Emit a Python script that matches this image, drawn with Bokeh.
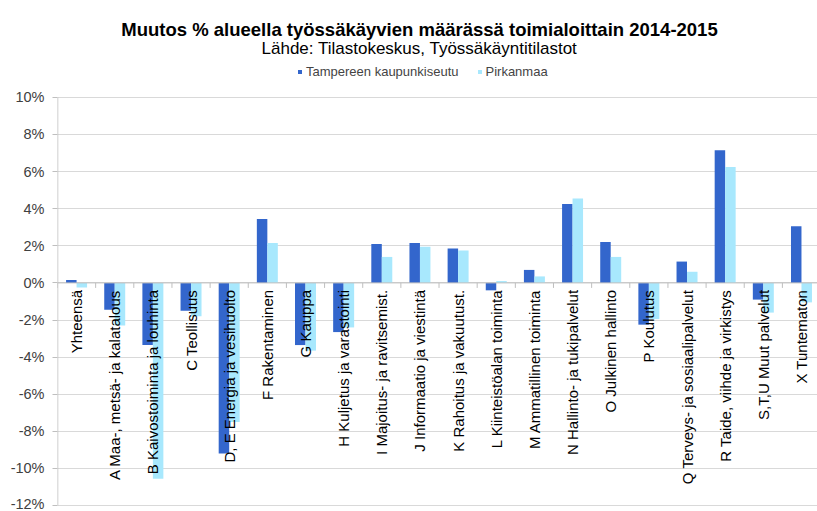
import numpy as np
from bokeh.plotting import figure
from bokeh.models import (ColumnDataSource, Range1d, FixedTicker, PrintfTickFormatter,
                          Label, Legend, LegendItem, Span)
from bokeh.transform import dodge
from bokeh.core.properties import value
from bokeh.embed import file_html
from bokeh.resources import INLINE

# ---- data -------------------------------------------------------------
categories = [
    "Yhteensä",
    "A Maa-, metsä- ja kalatalous",
    "B Kaivostoiminta ja louhinta",
    "C Teollisuus",
    "D, E Energia ja vesihuolto",
    "F Rakentaminen",
    "G Kauppa",
    "H Kuljetus ja varastointi",
    "I Majoitus- ja ravitsemist.",
    "J Informaatio ja viestintä",
    "K Rahoitus ja vakuutust.",
    "L Kiinteistöalan toiminta",
    "M Ammatillinen toiminta",
    "N Hallinto- ja tukipalvelut",
    "O Julkinen hallinto",
    "P Koulutus",
    "Q Terveys- ja sosiaalipalvelut",
    "R Taide, viihde ja virkistys",
    "S,T,U Muut palvelut",
    "X Tuntematon",
]
tampere = [0.15, -1.45, -3.35, -1.5, -9.2, 3.45, -3.35, -2.65, 2.1, 2.15,
           1.85, -0.4, 0.7, 4.25, 2.2, -2.25, 1.15, 7.15, -0.9, 3.05]
pirkanmaa = [-0.25, -2.3, -10.55, -1.8, -7.5, 2.15, -3.65, -2.4, 1.4, 1.95,
             1.75, 0.1, 0.35, 4.55, 1.4, -1.95, 0.6, 6.25, -1.6, -1.05]
series_names = ["Tampereen kaupunkiseutu", "Pirkanmaa"]
y_ticks = list(range(-12, 11, 2))
title_text = "Muutos % alueella työssäkäyvien määrässä toimialoittain 2014-2015"
subtitle_text = "Lähde: Tilastokeskus, Työssäkäyntitilastot"

# ---- styles -----------------------------------------------------------
DARK = "#3366CC"
LIGHT = "#A8E8FD"
GRID = "#d9d9d9"
AXIS = "#bfbfbf"
FONT = "Liberation Sans"

n = len(categories)
pos = np.arange(n) + 0.5
src = ColumnDataSource(dict(x=pos, cat=categories, t=tampere, p=pirkanmaa,
                            zero=np.zeros(n)))

# frame fills the canvas height; the area above 10 % holds titles and legend
p = figure(width=817, height=511, output_backend="svg", toolbar_location=None,
           x_range=Range1d(0, n - 0.08), y_range=Range1d(-12.32, 15.22),
           min_border_left=57, min_border_right=0, min_border_top=0,
           min_border_bottom=0)
p.outline_line_color = None
p.background_fill_color = "white"
p.border_fill_color = "white"

# grid & axes
p.xaxis.visible = False
p.xgrid.visible = False
p.ygrid.ticker = FixedTicker(ticks=y_ticks)
p.ygrid.grid_line_color = GRID
p.ygrid.grid_line_width = 1
p.yaxis.ticker = FixedTicker(ticks=y_ticks)
p.yaxis.formatter = PrintfTickFormatter(format="%d%%")
p.yaxis.axis_line_color = None
p.yaxis.major_tick_line_color = AXIS
p.yaxis.major_tick_out = 5
p.yaxis.major_tick_in = 0
p.yaxis.minor_tick_line_color = None
p.yaxis.major_label_standoff = 8
p.yaxis.major_label_text_font = FONT
p.yaxis.major_label_text_font_size = "14.5px"
p.yaxis.major_label_text_color = "#404040"

# vertical axis line limited to the tick span
p.segment(x0=[0], y0=[min(y_ticks)], x1=[0], y1=[max(y_ticks)],
          line_color=AXIS, line_width=1.5)

# bars
r1 = p.vbar(x=dodge("x", -0.1375), top="t", bottom=0, width=0.275, source=src,
            fill_color=DARK, line_color=None)
r2 = p.vbar(x=dodge("x", 0.1375), top="p", bottom=0, width=0.275, source=src,
            fill_color=LIGHT, line_color=None)

# category axis at zero
p.add_layout(Span(location=0, dimension="width", line_color=AXIS, line_width=1))
bounds = np.arange(n + 1)
p.segment(x0=bounds, y0=np.zeros(n + 1), x1=bounds, y1=np.full(n + 1, -0.27),
          line_color=AXIS, line_width=1)

# category labels
p.text(x="x", y="zero", text="cat", source=src, angle=np.pi / 2,
       text_align="right", text_baseline="middle", y_offset=7,
       text_font=value(FONT), text_font_size="15px", text_color="#000000")

# titles (screen units relative to the frame's bottom-left corner)
p.add_layout(Label(x=362, y=482, x_units="screen", y_units="screen",
                   text=title_text, text_align="center",
                   text_baseline="alphabetic", text_font=FONT,
                   text_font_style="bold", text_font_size="18.5px",
                   text_color="#000000"))
p.add_layout(Label(x=362, y=463, x_units="screen", y_units="screen",
                   text=subtitle_text, text_align="center",
                   text_baseline="alphabetic", text_font=FONT,
                   text_font_size="17px", text_color="#000000"))

# legend
legend = Legend(items=[LegendItem(label=series_names[0], renderers=[r1]),
                       LegendItem(label=series_names[1], renderers=[r2])],
                orientation="horizontal", location=(240, 432),
                glyph_width=5, glyph_height=5, label_standoff=4, spacing=18,
                padding=0, margin=0, border_line_color=None,
                background_fill_alpha=0, label_text_font=FONT,
                label_text_font_size="13px", label_height=13)
p.add_layout(legend)

open("out.html", "w").write(file_html(p, INLINE))
